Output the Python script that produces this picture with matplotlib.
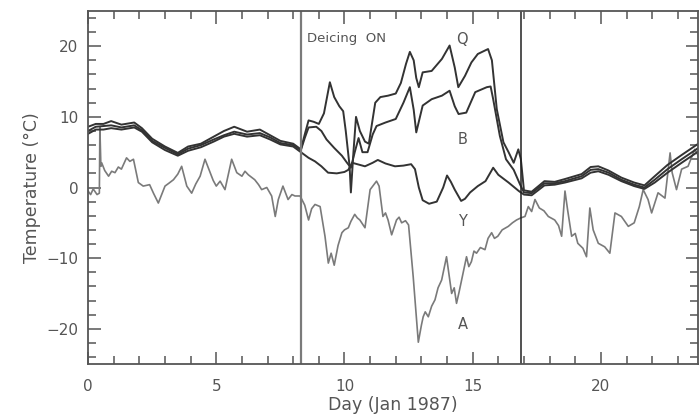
import matplotlib
matplotlib.use("Agg")
import matplotlib.pyplot as plt
from matplotlib.ticker import MultipleLocator

# ---- data (day, temperature in deg C) ----
pre_days = [0, 0.3, 0.6, 0.9, 1.3, 1.8, 2.1, 2.5, 3.0, 3.5, 3.9, 4.4, 4.9,
            5.3, 5.7, 6.2, 6.7, 7.1, 7.5, 8.0, 8.3]
post_days = [17.0, 17.3, 17.8, 18.2, 18.6, 19.25, 19.6, 19.9, 20.3, 20.8,
             21.3, 21.7, 22.1, 22.6, 23.15, 23.8]

q_pre = [8.6, 9.0, 9.0, 9.4, 8.9, 9.2, 8.4, 6.9, 5.8, 4.9, 5.8, 6.2, 7.2,
         8.0, 8.6, 7.9, 8.2, 7.4, 6.6, 6.2, 5.4]
b_pre = [8.0, 8.6, 8.7, 8.8, 8.5, 8.8, 8.1, 6.6, 5.6, 4.7, 5.5, 6.0, 6.8,
         7.4, 7.9, 7.5, 7.7, 7.1, 6.3, 6.0, 5.3]
y_pre = [7.6, 8.2, 8.2, 8.4, 8.2, 8.5, 7.9, 6.4, 5.3, 4.5, 5.2, 5.7, 6.5,
         7.2, 7.6, 7.2, 7.4, 6.8, 6.1, 5.8, 5.0]

q_on_days = [8.45, 8.6, 8.8, 9.0, 9.2, 9.43, 9.6, 9.8, 9.95, 10.05, 10.2, 10.25,
             10.35, 10.45, 10.6, 10.8, 10.95, 11.2, 11.4, 11.7, 12.0, 12.2, 12.4,
             12.55, 12.7, 12.8, 12.9, 13.05, 13.4, 13.8, 14.1, 14.3, 14.44, 14.7,
             14.95, 15.2, 15.6, 15.75, 15.94, 16.2, 16.4, 16.6, 16.78, 16.88]
q_on = [7.5, 9.5, 9.3, 9.0, 10.5, 14.9, 12.8, 11.5, 10.8, 8.0, 3.0, -0.7,
        5.0, 10.0, 8.0, 6.5, 6.2, 12.0, 12.8, 13.0, 13.3, 14.8, 17.5,
        19.2, 18.0, 15.5, 14.2, 16.3, 16.5, 18.2, 20.1, 17.0, 14.2, 15.8,
        17.7, 18.9, 19.6, 18.0, 11.1, 6.4, 5.0, 3.5, 5.4, 4.0]

b_on_days = [8.45, 8.6, 8.9, 9.1, 9.3, 9.6, 9.9, 10.1, 10.25, 10.4, 10.55, 10.7,
             10.9, 11.1, 11.25, 11.6, 12.0, 12.3, 12.55, 12.7, 12.8, 13.05, 13.4,
             13.8, 14.1, 14.3, 14.45, 14.75, 15.1, 15.55, 15.7, 15.8, 16.06, 16.3,
             16.6, 16.84]
b_on = [7.0, 8.5, 8.6, 8.0, 6.8, 5.6, 4.5, 3.5, 2.8, 5.0, 7.0, 5.0,
        5.0, 7.5, 8.7, 9.2, 9.7, 12.0, 14.2, 11.0, 7.8, 11.6, 12.5,
        13.0, 13.7, 11.5, 10.4, 10.6, 13.5, 14.2, 14.3, 12.5, 7.3, 4.0,
        2.5, 0.5]

y_on_days = [8.45, 8.6, 8.85, 9.1, 9.36, 9.7, 10.0, 10.15, 10.3, 10.5, 10.8, 11.1,
             11.3, 11.6, 11.97, 12.3, 12.6, 12.75, 12.9, 13.05, 13.3, 13.6,
             13.85, 14.0, 14.15, 14.3, 14.55, 14.7, 14.9, 15.2, 15.5, 15.8,
             16.0, 16.4, 16.8]
y_on = [4.6, 4.2, 3.7, 3.0, 2.1, 2.0, 2.2, 2.5, 3.5, 3.3, 3.0, 3.5,
        3.9, 3.4, 3.0, 3.1, 3.3, 2.6, 0.0, -1.8, -2.3, -2.0,
        0.0, 1.7, 0.8, -0.3, -1.9, -1.6, -0.7, 0.2, 0.9, 2.8,
        1.8, 0.7, -0.5]

q_post = [-0.4, -0.6, 0.9, 0.8, 1.2, 1.9, 2.9, 3.0, 2.4, 1.4, 0.7, 0.3, 1.6, 3.2, 4.6, 6.2]
b_post = [-0.7, -0.8, 0.6, 0.6, 0.9, 1.6, 2.5, 2.6, 2.1, 1.1, 0.4, 0.0, 1.1, 2.6, 4.0, 5.6]
y_post = [-1.0, -1.1, 0.3, 0.4, 0.7, 1.3, 2.1, 2.3, 1.8, 0.9, 0.2, -0.2, 0.7, 2.1, 3.5, 5.1]

a_days = [0.0, 0.1, 0.2, 0.35, 0.44, 0.46, 0.5, 0.53, 0.65, 0.8, 0.92, 1.05, 1.18,
          1.3, 1.5, 1.63, 1.77, 1.96, 2.15, 2.4, 2.55, 2.74, 3.0, 3.15, 3.33, 3.5,
          3.65, 3.85, 4.04, 4.2, 4.37, 4.56, 4.76, 4.88, 5.0, 5.15, 5.34, 5.6,
          5.8, 6.0, 6.12, 6.25, 6.5, 6.65, 6.77, 6.97, 7.16, 7.3, 7.42, 7.6,
          7.8, 7.95, 8.07, 8.27, 8.45, 8.6, 8.72, 8.85, 9.05, 9.24, 9.37, 9.48,
          9.6, 9.75, 9.9, 10.0, 10.15, 10.25, 10.4, 10.5, 10.6, 10.8, 11.0,
          11.25, 11.35, 11.5, 11.6, 11.7, 11.84, 12.03, 12.13, 12.23, 12.38,
          12.5, 12.68, 12.88, 13.0, 13.07, 13.15, 13.27, 13.4, 13.53, 13.65,
          13.79, 13.98, 14.18, 14.28, 14.37, 14.47, 14.57, 14.66, 14.76, 14.85,
          14.95, 15.05, 15.15, 15.3, 15.48, 15.6, 15.74, 15.85, 15.98, 16.15,
          16.39, 16.55, 16.71, 16.88, 17.04, 17.17, 17.3, 17.43, 17.6, 17.78,
          17.95, 18.2, 18.35, 18.47, 18.6, 18.7, 18.86, 19.0, 19.1, 19.3, 19.44,
          19.57, 19.7, 19.9, 20.15, 20.35, 20.55, 20.8, 21.07, 21.3, 21.5,
          21.65, 21.84, 21.98, 22.23, 22.5, 22.7, 22.78, 22.95, 23.15, 23.4,
          23.66, 23.8]
a_temp = [-0.5, -1.0, -0.2, -1.0, -0.8, 8.5, 3.0, 3.5, 2.4, 1.6, 2.3, 2.1, 2.9,
          2.6, 4.2, 3.7, 4.0, 0.7, 0.2, 0.4, -0.8, -2.2, 0.2, 0.6, 1.1, 1.9,
          3.0, 0.2, -0.8, 0.5, 1.6, 4.0, 2.1, 1.0, 0.2, 0.9, -0.3, 4.0,
          2.1, 1.6, 2.3, 1.8, 1.1, 0.4, -0.3, 0.0, -1.2, -4.1, -1.7, 0.2,
          -1.7, -1.0, -1.2, -1.2, -2.5, -4.6, -3.0, -2.4, -2.7, -6.9, -10.7, -9.3,
          -11.0, -8.2, -6.4, -6.0, -5.7, -4.8, -3.8, -4.3, -4.6, -5.7, -0.3,
          0.9, 0.2, -4.1, -3.6, -4.6, -6.7, -4.6, -4.2, -5.0, -4.7,
          -5.3, -12.6, -21.9, -19.5, -18.3, -17.6, -18.3, -16.8, -15.9, -14.2,
          -13.1, -9.8, -15.0, -14.2, -16.4, -14.8, -13.1, -11.5, -9.8, -11.2,
          -10.5, -9.0, -9.3, -8.5, -8.8, -7.2, -6.4, -7.2, -6.9, -6.0,
          -5.5, -5.0, -4.6, -4.3, -4.1, -2.7, -3.4, -1.7, -2.9, -3.3,
          -4.1, -4.6, -5.4, -6.9, -0.5, -3.1, -6.9, -6.5, -7.9, -8.6, -9.8,
          -2.9, -6.0, -7.9, -8.4, -9.3, -3.6, -4.1, -5.5, -5.0, -2.7,
          -0.3, -1.7, -3.6, -0.75, -1.5, 4.9, 2.1, -0.3, 2.6, 3.0,
          5.4, 4.5]

deicing_on = 8.3
deicing_off = 16.88

q_days = pre_days + q_on_days + post_days
b_days = pre_days + b_on_days + post_days
y_days = pre_days + y_on_days + post_days
q_temp = q_pre + q_on + q_post
b_temp = b_pre + b_on + b_post
y_temp = y_pre + y_on + y_post

dark = "#333333"
grey = "#7a7a7a"
txt = "#555555"

fig = plt.figure(figsize=(6.99, 4.19), dpi=100)
ax = fig.add_axes([0.126, 0.131, 0.873, 0.843])

ax.plot(a_days, a_temp, color=grey, lw=1.2)
for d, t in [(q_days, q_temp), (b_days, b_temp), (y_days, y_temp)]:
    ax.plot(d, t, color=dark, lw=1.4)

ax.axvline(deicing_on, color=grey, lw=1.6)
ax.axvline(deicing_off, color="#222222", lw=1.1)

ax.set_xlim(0, 23.8)
ax.set_ylim(-25, 25)
ax.xaxis.set_major_locator(MultipleLocator(5))
ax.xaxis.set_minor_locator(MultipleLocator(1))
ax.yaxis.set_major_locator(MultipleLocator(10))
ax.yaxis.set_minor_locator(MultipleLocator(2))
ax.tick_params(which="both", direction="in", top=True, right=True,
               color=txt, labelcolor=txt, labelsize=11, width=1.1)
ax.tick_params(which="major", length=9)
ax.tick_params(which="minor", length=5.5)
ax.tick_params(axis="x", pad=11)
ax.tick_params(axis="y", pad=7)
ax.set_yticks([-20, -10, 0, 10, 20])
ax.set_yticklabels(["\u221220", "\u221210", "0", "10", "20"])
for s in ax.spines.values():
    s.set_color(txt)
    s.set_linewidth(1.3)

ax.set_xlabel("Day (Jan 1987)", color=txt, fontsize=12.5, labelpad=1)
ax.set_ylabel("Temperature (\u00b0C)", color=txt, fontsize=12.5, labelpad=4)

ax.text(8.55, 20.6, "Deicing  ON", color=txt, fontsize=9.5)
for lab, yv in [("Q", 21.0), ("B", 6.8), ("Y", -4.8), ("A", -19.4)]:
    ax.text(14.6, yv, lab, color=txt, fontsize=10.5, ha="center", va="center")

fig.savefig("out.png", dpi=100)
